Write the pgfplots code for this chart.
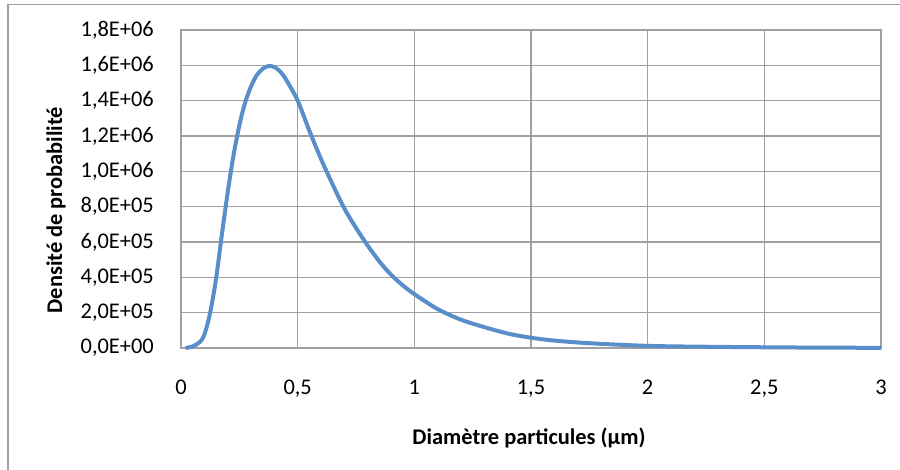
\documentclass[border=0pt]{standalone}
\usepackage{pgfplots}
\pgfplotsset{compat=1.18}
\usepackage{fontspec}
\setmainfont{Carlito}
\definecolor{gridgray}{RGB}{160,160,160}
\definecolor{curveblue}{RGB}{88,142,202}
\begin{document}
\begin{tikzpicture}[x=1bp,y=1bp]
\useasboundingbox (0,0) rectangle (900,470);
% chart frame (cut off at right and bottom)
\draw[gridgray, line width=1.5bp] (8,-5) -- (8,465.5) -- (905,465.5);
\begin{axis}[
    at={(181bp,122bp)},
    anchor=origin,
    scale only axis,
    width=700bp,
    height=318bp,
    xmin=0, xmax=3,
    ymin=0, ymax=1800000,
    xtick={0,0.5,1,1.5,2,2.5,3},
    xticklabels={0,{0,5},1,{1,5},2,{2,5},3},
    ytick={0,200000,400000,600000,800000,1000000,1200000,1400000,1600000,1800000},
    yticklabels={{0,0E+00},{2,0E+05},{4,0E+05},{6,0E+05},{8,0E+05},{1,0E+06},{1,2E+06},{1,4E+06},{1,6E+06},{1,8E+06}},
    scaled y ticks=false,
    major tick length=0pt,
    grid=major,
    major grid style={gridgray, line width=1.5bp},
    axis line style={gridgray, line width=1.5bp},
    tick label style={font=\fontsize{22.5}{24}\selectfont, inner sep=0pt},
    xticklabel style={anchor=base, yshift=-47bp},
    yticklabel style={anchor=east, xshift=-27bp},
    clip=false,
    ]
\addplot[curveblue, line width=4bp, smooth, tension=0.5] table {
    x      y
    0.02   0
    0.05   9000
    0.08   33000
    0.10   75000
    0.125  200000
    0.15   390000
    0.175  640000
    0.20   880000
    0.225  1090000
    0.25   1260000
    0.275  1390000
    0.30   1480000
    0.325  1545000
    0.35   1580000
    0.375  1596000
    0.40   1590000
    0.425  1565000
    0.45   1520000
    0.50   1400000
    0.55   1230000
    0.60   1070000
    0.65   925000
    0.70   790000
    0.75   680000
    0.80   580000
    0.85   490000
    0.90   415000
    0.95   355000
    1.00   305000
    1.10   220000
    1.20   160000
    1.30   118000
    1.40   82000
    1.50   58000
    1.60   42000
    1.75   27000
    2.00   12000
    2.25   7000
    2.50   4000
    2.75   2000
    3.00   1000
};
\end{axis}
\node[font=\fontsize{22.5}{24}\selectfont\bfseries, rotate=90, inner sep=0pt] at (56,260) {Densité de probabilité};
\node[font=\fontsize{22.5}{24}\selectfont\bfseries, inner sep=0pt] at (529,32) {Diamètre particules (µm)};
\end{tikzpicture}
\end{document}
